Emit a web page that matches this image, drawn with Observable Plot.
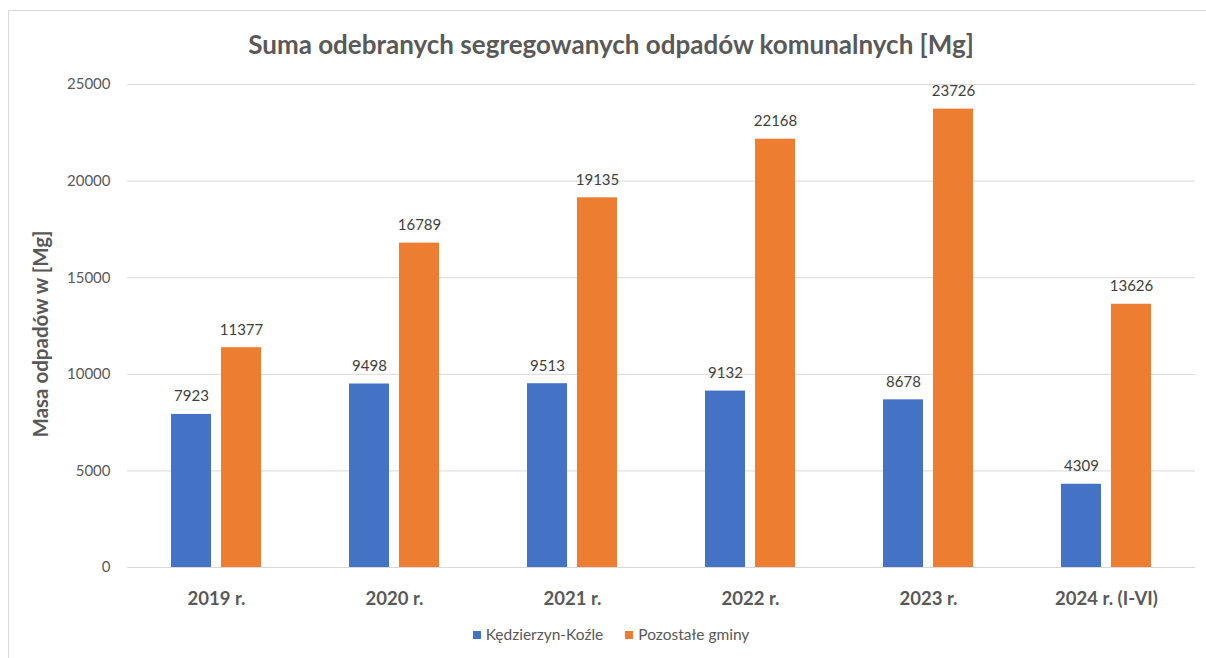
<!DOCTYPE html>
<html>
<head>
<meta charset="utf-8">
<script src="https://cdn.jsdelivr.net/npm/d3@7"></script>
<script src="https://cdn.jsdelivr.net/npm/@observablehq/plot@0.6"></script>
<style>
  html, body { margin: 0; padding: 0; background: #fff; }
  #wrap { position: relative; width: 1206px; height: 658px; overflow: hidden; font-family: Lato, "Open Sans", sans-serif; }
  #border { position: absolute; left: 8px; top: 10px; width: 1300px; height: 700px; border: 1px solid #d9d9d9; box-sizing: border-box; }
  #title { position: relative; height: 60px; box-sizing: border-box; padding-top: 29px; line-height: 30px; font-size: 26px; font-weight: bold; color: #595959; width: 1222px; text-align: center; }
  #chart { position: relative; height: 560px; }
  #ylabel { position: absolute; left: 40px; top: 334px; transform: translate(-50%, -50%) rotate(-90deg); white-space: nowrap; font-size: 20.5px; font-weight: bold; color: #595959; }
  #legend { position: relative; width: 1222px; text-align: center; font-size: 15.5px; color: #595959; line-height: 28px; }
  .sw { display: inline-block; width: 8px; height: 8px; margin-right: 5px; vertical-align: 1px; }
  .item { margin: 0 11px; }
</style>
</head>
<body>
<div id="wrap">
  <div id="border"></div>
  <div id="title">Suma odebranych segregowanych odpadów komunalnych [Mg]</div>
  <div id="chart"></div>
  <div id="legend"></div>
  <div id="ylabel">Masa odpadów w [Mg]</div>
</div>
<script>
const years = ["2019 r.", "2020 r.", "2021 r.", "2022 r.", "2023 r.", "2024 r. (I-VI)"];
const seriesNames = ["Kędzierzyn-Koźle", "Pozostałe gminy"];
const kedzierzyn = [7923, 9498, 9513, 9132, 8678, 4309];
const pozostale = [11377, 16789, 19135, 22168, 23726, 13626];
const yTicks = [0, 5000, 10000, 15000, 20000, 25000];
const colors = ["#4472C4", "#ED7D31"];

const data = [];
years.forEach((y, i) => {
  data.push({year: y, series: seriesNames[0], value: kedzierzyn[i]});
  data.push({year: y, series: seriesNames[1], value: pozostale[i]});
});

const chart = Plot.plot({
  width: 1206,
  height: 560,
  marginLeft: 127,
  marginRight: 11,
  marginTop: 24,
  marginBottom: 53,
  style: {fontFamily: "Lato, 'Open Sans', sans-serif", background: "transparent"},
  fx: {domain: years, paddingInner: 0, paddingOuter: 0, label: null},
  x: {domain: seriesNames, paddingInner: 0.2, paddingOuter: 0.88, axis: null},
  y: {domain: [0, 25000], ticks: yTicks, label: null},
  color: {domain: seriesNames, range: colors},
  marks: [
    Plot.gridY(yTicks, {stroke: "#d9d9d9", strokeOpacity: 1, strokeWidth: 1}),
    Plot.axisY(yTicks, {tickSize: 0, tickPadding: 17, fontSize: 15, fill: "#595959", label: null, tickFormat: d => String(d)}),
    Plot.axisFx({anchor: "bottom", tickSize: 0, tickPadding: 24, fontSize: 18.5, fontWeight: "bold", fill: "#595959", label: null}),
    Plot.barY(data, {fx: "year", x: "series", y: "value", fill: "series"}),
    Plot.text(data, {fx: "year", x: "series", y: "value", text: d => String(d.value), dy: -18, fontSize: 15, fill: "#404040"})
  ]
});
document.getElementById("chart").appendChild(chart);

const legend = document.getElementById("legend");
seriesNames.forEach((s, i) => {
  const span = document.createElement("span");
  span.className = "item";
  span.innerHTML = `<span class="sw" style="background:${colors[i]}"></span>${s}`;
  legend.appendChild(span);
});
</script>
</body>
</html>
